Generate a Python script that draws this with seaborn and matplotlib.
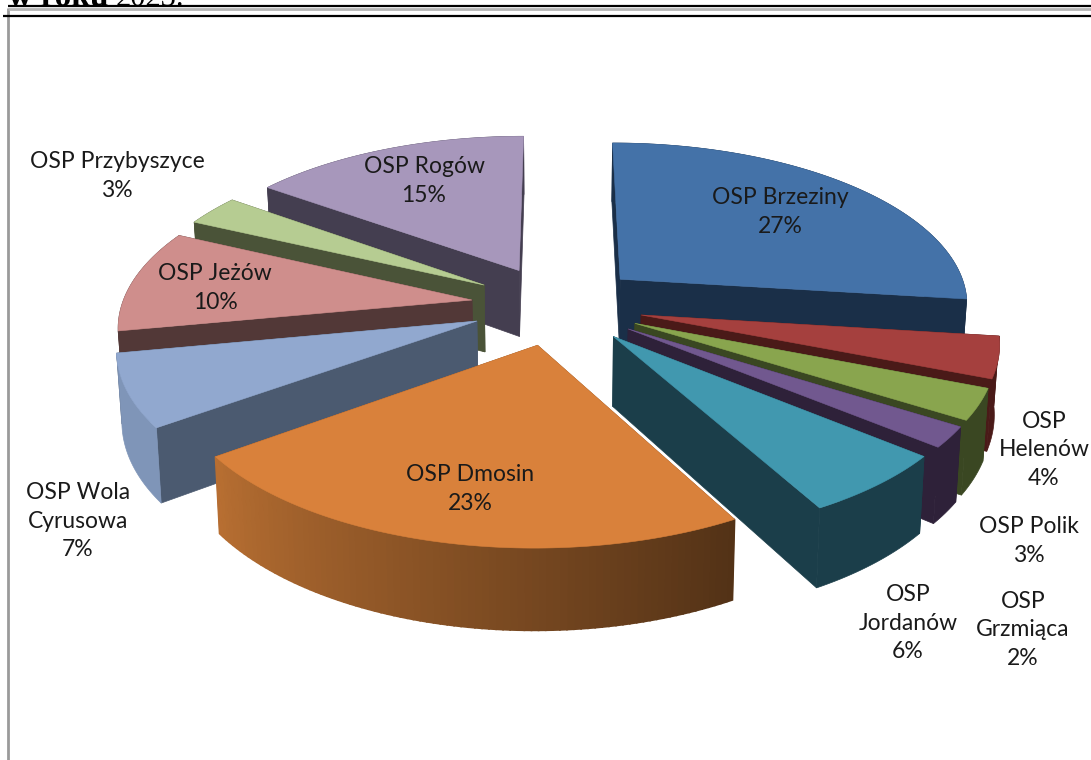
import numpy as np
import matplotlib
matplotlib.use("Agg")
import matplotlib.pyplot as plt
import matplotlib.colors as mc
import seaborn as sns

# ---- chart values -------------------------------------------------------
names = ["OSP Brzeziny", "OSP\nHelenów", "OSP Polik", "OSP\nGrzmiąca", "OSP\nJordanów",
         "OSP Dmosin", "OSP Wola\nCyrusowa", "OSP Jeżów", "OSP Przybyszyce", "OSP Rogów"]
shares = [27, 4, 3, 2, 6, 23, 7, 10, 3, 15]

top_colors = ["#4472A8", "#A5403E", "#89A54E", "#71588F", "#4198AF",
              "#D9813B", "#91A8CF", "#CF8E8C", "#B6CC92", "#A797BB"]
cut_colors = ["#1A2F48", "#4A1A18", "#3A4722", "#2E2139", "#1B3E4A",
              "#8A5025", "#4B5A70", "#523837", "#4A5338", "#443E50"]
rim_colors = ["#1A2F48", "#4A1A18", "#3A4722", "#2E2139", "#1B3E4A",
              "#B86F32", "#7F95B8", "#523837", "#4A5338", "#443E50"]
label_xy = [(780, 212), (1044, 450), (1029, 541), (1023, 630), (908, 623),
            (470, 489), (78, 521), (215, 288), (117, 176), (424, 181)]

sns.set_theme(style="white")
plt.rcParams["font.family"] = ["Lato", "DejaVu Sans"]

# ---- projection of the tilted, exploded pie ----------------------------
CX, CY, RAD, SQ, PERSP, EXPL, DEPTH = 557.0, 305.0, 350.0, 162.0, 0.14, 0.246, 68.0


def project(x, y):
    w = 1.0 / (1.0 + PERSP * y)
    return CX + RAD * x * w, CY - SQ * y * w, w


def lower(x, y):
    sx, sy, w = project(x, y)
    return CX + (sx - CX) * 0.988, sy + DEPTH * w


fig = plt.figure(figsize=(10.91, 7.6), dpi=100, facecolor="white")
ax = fig.add_axes([0, 0, 1, 1])
ax.set_xlim(0, 1091)
ax.set_ylim(760, 0)
ax.axis("off")

fractions = np.array(shares, dtype=float) / sum(shares)
edges = np.concatenate([[0.0], np.cumsum(fractions)]) * 2 * np.pi
mids = (edges[:-1] + edges[1:]) / 2

# Painter's order: from the back of the pie to the front.
for i in np.argsort(-np.cos(mids)):
    a0, a1, am = edges[i], edges[i + 1], mids[i]
    ox, oy = EXPL * np.sin(am), EXPL * np.cos(am)
    th = np.linspace(a0, a1, max(6, int((a1 - a0) * 60)))
    xs, ys = ox + np.sin(th), oy + np.cos(th)

    # cut faces
    for (ex, ey) in ((xs[0], ys[0]), (xs[-1], ys[-1])):
        p0 = project(ox, oy)[:2]
        p1 = project(ex, ey)[:2]
        q1 = lower(ex, ey)
        q0 = lower(ox, oy)
        ax.fill([p0[0], p1[0], q1[0], q0[0]], [p0[1], p1[1], q1[1], q0[1]],
                color=cut_colors[i], lw=0.5, zorder=2)

    # outer rim
    base = np.array(mc.to_rgb(rim_colors[i]))
    sx, sy, _ = project(xs, ys)
    bx, by = lower(xs, ys)
    if names[i] == "OSP Dmosin":
        # lightest on the left end, darkest on the right end
        for k in range(len(th) - 1):
            t = (a1 - th[k]) / (a1 - a0)
            ax.fill([sx[k], sx[k + 1], bx[k + 1], bx[k]],
                    [sy[k], sy[k + 1], by[k + 1], by[k]],
                    color=tuple(base * (1.0 - 0.55 * t)), lw=1.2, zorder=2)
    else:
        ax.fill(np.r_[sx, bx[::-1]], np.r_[sy, by[::-1]], color=tuple(base), lw=0.5, zorder=2)

    # top surface
    tx, ty, _ = project(np.r_[ox, xs], np.r_[oy, ys])
    ax.fill(tx, ty, color=top_colors[i], lw=0.4, zorder=2)

# ---- labels -------------------------------------------------------------
for name, share, (lx, ly) in zip(names, shares, label_xy):
    ax.text(lx, ly, f"{name}\n{share}%", ha="center", va="center", fontsize=16.5,
            color="#1a1a1a", linespacing=1.42, zorder=5)

# ---- page furniture around the chart ------------------------------------
ax.text(8, 6, "w roku", family="Liberation Serif", weight="bold", fontsize=24,
        color="black", ha="left", va="baseline", zorder=1)
ax.text(116, 6, "2023.", family="Liberation Serif", fontsize=22,
        color="black", ha="left", va="baseline", zorder=1)
ax.plot([8, 8], [8, 760], color="#9a9a9a", lw=2.0, zorder=3, solid_capstyle="butt")
ax.plot([8, 1091], [9, 9], color="#b5b5b5", lw=2.0, zorder=3, solid_capstyle="butt")
ax.plot([8, 1091], [6, 6], color="black", lw=1.6, zorder=4, solid_capstyle="butt")
ax.plot([3, 1091], [15.5, 15.5], color="black", lw=1.6, zorder=4, solid_capstyle="butt")

fig.savefig("out.png", dpi=100)
